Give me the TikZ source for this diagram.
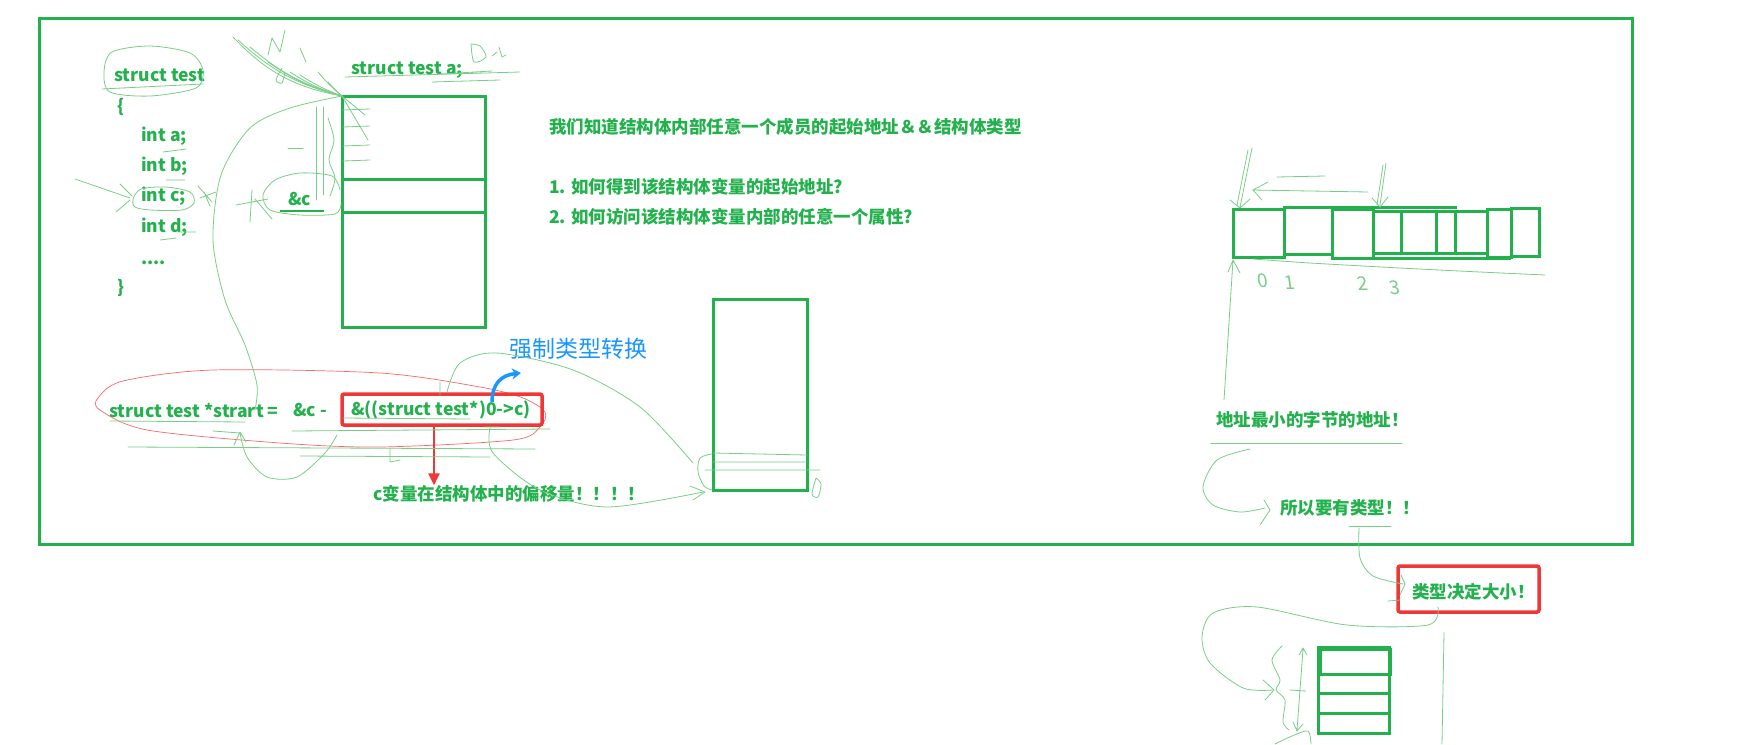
\documentclass[tikz,border=0pt]{standalone}
\usepackage{fontspec}
\setmainfont{Noto Sans CJK SC}
\usetikzlibrary{arrows.meta,positioning}
\definecolor{pgreen}{RGB}{34,177,76}
\definecolor{pencil}{RGB}{120,205,135}
\definecolor{pred}{RGB}{240,55,55}
\definecolor{pblue}{RGB}{25,150,255}
\tikzset{
  txt/.style={text=pgreen,font=\bfseries\fontsize{17.5}{20}\selectfont,inner sep=0pt,anchor=west},
  hand/.style={text=pencil,font=\fontsize{19}{20}\selectfont,inner sep=0pt,xslant=-0.15},
  thickbox/.style={draw=pgreen,line width=3pt},
  scribble/.style={draw=pencil,line width=0.8pt,line cap=round,line join=round},
  redbox/.style={draw=pred,line width=3.5pt,rounded corners=2pt,inner sep=0pt},
  redarrow/.style={draw=pred,line width=2.5pt,-{Triangle[width=11pt,length=12pt]}},
}
\begin{document}
\begin{tikzpicture}[x=1pt,y=-1pt]
\useasboundingbox (0,0) rectangle (1755,744);

% outer frame
\draw[thickbox] (39,18) rectangle (1632,544);

% struct definition
\node[txt] (def) at (114,75) {struct test};
\node[txt] (lb) at (117,107) {\{};
\node[txt] (ma) at (141,136) {int a;};
\node[txt] (mb) at (141,166) {int b;};
\node[txt] (mc) at (141,196) {int c;};
\node[txt] (md) at (141,227) {int d;};
\node[txt,anchor=base west] (dots) at (141,264) {....};
\node[txt] (rb) at (117,288) {\}};

% variable a in memory
\node[txt] (var) at (351,70) {struct test a;};
\node[txt] (addrc) at (288,199) {\&c};
\draw[thickbox] (342,96) rectangle (485,327);
\draw[thickbox] (342,179) -- (485,179);
\draw[thickbox] (342,212) -- (485,212);
\coordinate (memtop) at (342,96);

% questions
\node[txt] (known) at (549,127) {我们知道结构体内部任意一个成员的起始地址＆＆结构体类型};
\node[txt] (q1) at (549,187) {1. 如何得到该结构体变量的起始地址?};
\node[txt] (q2) at (549,217) {2. 如何访问该结构体变量内部的任意一个属性?};

% the formula
\node[txt] (decl) at (109,410) {struct test *strart =};
\node[txt] (minus) at (293,410) {\&c -};
\node[txt] (offs) at (351,410) {\&((struct test*)0->c)};
\node[redbox,minimum width=200pt,minimum height=31pt] (offbox) at (442,409.5) {};
\node[txt] (offtxt) at (373,494) {c变量在结构体中的偏移量！！！！};
\draw[redarrow] ([xshift=-8pt]offbox.south) -- ([xshift=-8pt]offbox.south |- offtxt.north);
\draw[pred,line width=0.7pt,opacity=.75] plot[smooth cycle] coordinates {(98,398) (123,381) (213,370) (380,373) (480,387) (523,398) (545,412) (540,427) (513,440) (380,447) (280,443) (147,430) (100,410)};

% type cast note
\node[text=pblue,font=\fontsize{23}{26}\selectfont,inner sep=0pt,anchor=west] (cast) at (509,349) {强制类型转换};
\draw[pblue,line width=3.5pt,-{Stealth[length=9pt,width=11pt]}] (492,402) .. controls (492,384) and (501,375) .. (521,373);

% second block
\draw[thickbox] (713,299) rectangle (807,490);

% bytes of the struct
\foreach \xa/\xb/\ya/\yb in {1233/1284/209/257,1284/1332/207/254,1332/1373/209/258,1373/1401/211/253,1401/1436/211/253,1436/1455/211/253,1455/1487/211/253,1487/1511/209/257,1511/1539/208/256}
  \draw[thickbox] (\xa,\ya) rectangle (\xb,\yb);
\draw[thickbox] (1284,207) -- (1457,207);
\draw[thickbox] (1332,258) -- (1511,258);
\coordinate (bytes) at (1233,260);

% right notes
\node[txt] (lowest) at (1216,420) {地址最小的字节的地址！};
\node[txt] (needtype) at (1280,508) {所以要有类型！！};
\node[txt] (sizetxt) at (1412,592) {类型决定大小！};
\node[redbox,minimum width=141pt,minimum height=46pt] (sizebox) at (1468.5,589) {};

% small stack
\draw[thickbox] (1318,647) rectangle (1389,733);
\draw[thickbox] (1320,649) rectangle (1390,674);
\draw[thickbox] (1318,693) -- (1389,693);
\draw[thickbox] (1318,713) -- (1389,713);

% pencil marks, left part
\draw[scribble] plot[smooth cycle] coordinates {(104,72) (112,52) (150,46) (190,53) (203,70) (196,88) (150,96) (110,92)};
\draw[scribble] (102,89) -- (203,84);
\draw[scribble] plot[smooth cycle] coordinates {(133,199) (141,189) (166,187) (190,192) (194,203) (182,210) (150,210) (135,207)};
\draw[scribble] (75,179) -- (130,198);
\draw[scribble] (120,184) -- (132,196) (116,212) -- (130,200);
\draw[scribble] (198,186) -- (212,202) (200,198) -- (216,192) (204,192) -- (210,206);
\draw[scribble] (163,152) -- (186,149) (166,180) -- (185,180) (160,240) -- (176,238) (178,232) -- (196,232);
\draw[scribble] (345,77) -- (520,72) (432,82) -- (500,80) (440,74) -- (492,71);
\draw[scribble] plot[smooth] coordinates {(471,44) (474,62) (486,57) (480,46) (471,44)};
\draw[scribble] (492,56) -- (497,52) (499,47) -- (502,57) -- (506,55);
\foreach \p/\b in {(233,37)/18,(238,40)/14,(250,47)/12,(268,62)/10,(290,72)/8,(300,75)/6,(318,72)/5,(328,82)/4}
  \draw[scribble] \p to[bend right=\b] (memtop);
\draw[scribble] (268,55) -- (272,38) -- (280,52) -- (285,30) (300,48) -- (306,62);
\draw[scribble] plot[smooth] coordinates {(282,68) (276,80) (282,83) (285,72)};
\foreach \y in {110,127,146,161}
  \draw[scribble] (343,\y) -- (370,\y-1);
\draw[scribble] (memtop) -- (365,115) (memtop) -- (368,140);
\draw[scribble] (316,107) -- (316,200) (323,107) -- (323,195);
\draw[scribble] plot[smooth] coordinates {(328,118) (334,140) (329,160) (335,178) (330,196)};
\draw[scribble] plot[smooth] coordinates {(340,190) (332,176) (300,173) (275,180) (263,195) (270,210) (300,215) (335,214) (341,204)};
\draw[pgreen,line width=2pt] (280,211) -- (324,211);
\draw[scribble] (236,205) -- (268,199) (252,190) -- (250,222) (255,199) -- (272,219);
\draw[scribble] (288,148) -- (303,148);
\draw[scribble] plot[smooth] coordinates {(memtop) (290,108) (250,128) (221,175) (213,240) (225,300) (245,345) (257,385) (255,410)};

% pencil marks, formula
\draw[scribble] (110,421) -- (245,422) (128,447) -- (535,449) (300,456) -- (490,457);
\draw[scribble] (292,431) -- (550,429) (343,418) -- (470,419) (485,427) -- (500,427);
\draw[scribble] (213,431) -- (240,433) (234,445) -- (240,432) -- (246,442);
\draw[scribble] plot[smooth] coordinates {(240,433) (247,457) (267,477) (297,477) (325,453) (337,435)};
\draw[scribble] (440,382) -- (440,395) (390,448) -- (390,462) -- (400,460);
\draw[scribble] plot[smooth] coordinates {(447,392) (460,363) (497,353) (573,370) (640,407) (693,463)};
\draw[scribble] plot[smooth] coordinates {(490,428) (493,453) (540,490) (607,507) (703,492)};
\draw[scribble] (690,486) -- (705,492) -- (693,500);
\draw[scribble] (713,453) -- (807,455) (713,462) -- (807,462) (705,470) -- (820,470);
\draw[scribble] plot[smooth] coordinates {(712,454) (700,458) (698,472) (704,486) (712,490)};
\draw[scribble] plot[smooth] coordinates {(816,478) (812,494) (818,497) (821,484) (816,478)};

% pencil marks, right part
\draw[scribble] (1252,148) -- (1240,207) (1248,150) -- (1237,205) (1230,200) -- (1240,208) -- (1250,199);
\draw[scribble] (1386,163) -- (1380,205) (1383,165) -- (1377,205) (1372,198) -- (1380,207) -- (1388,197);
\draw[scribble] (1368,192) -- (1252,190) (1268,182) -- (1253,190) (1253,190) -- (1262,200);
\draw[scribble] (1277,177) -- (1325,176);
\draw[scribble] plot[smooth] coordinates {(1253,259) (1310,263) (1400,268) (1480,272) (1545,275)};
\node[hand] (b0) at (1263,281) {0};
\node[hand] (b1) at (1290,283) {1};
\node[hand] (b2) at (1363,284) {2};
\node[hand] (b3) at (1395,288) {3};
\draw[scribble] (1224,400) -- (bytes) (1228,272) -- (bytes) -- (1240,273);
\draw[scribble] (1211,443) -- (1402,443);
\draw[scribble] plot[smooth] coordinates {(1250,449) (1217,460) (1203,487) (1213,505) (1240,512) (1265,508)};
\draw[scribble] (1264,500) -- (1270,510) -- (1260,525);
\draw[scribble] (1349,526) -- (1391,526);
\draw[scribble] plot[smooth] coordinates {(1359,528) (1360,558) (1373,576) (1403,584)};
\draw[scribble] (1401,575) -- (1405,584) -- (1400,595) (1388,601) -- (1400,600);
\draw[scribble] plot[smooth] coordinates {(1438,607) (1428,625) (1347,625) (1257,607) (1213,613) (1202,637) (1210,663) (1243,688) (1273,690)};
\draw[scribble] (1263,680) -- (1274,690) -- (1265,700);
\draw[scribble] (1444,632) -- (1442,744);
\draw[scribble] (1303,649) -- (1297,730) (1299,655) -- (1303,648) -- (1307,655) (1293,722) -- (1297,731) -- (1303,724);
\draw[scribble] plot[smooth] coordinates {(1282,646) (1272,660) (1280,680) (1276,690) (1285,700) (1283,722) (1289,730)};
\draw[scribble] (1290,690) -- (1306,691);
\draw[scribble] plot[smooth] coordinates {(1275,744) (1292,736) (1308,731) (1311,744)};

\end{tikzpicture}
\end{document}
